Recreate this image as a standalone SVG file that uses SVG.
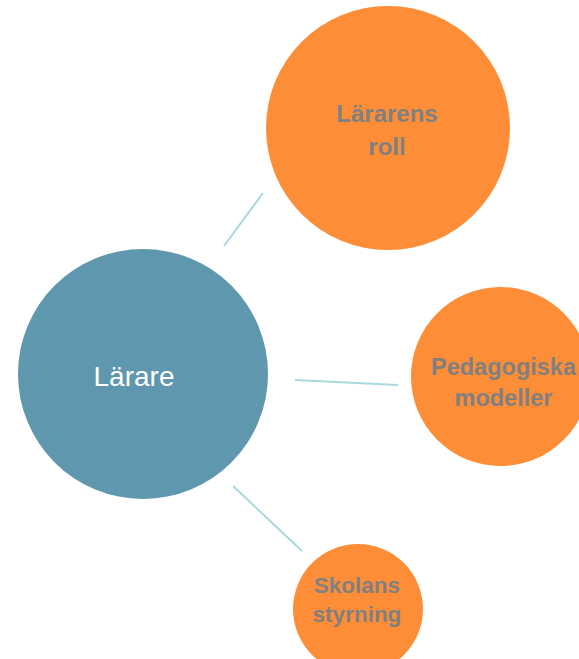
<svg xmlns="http://www.w3.org/2000/svg" width="579" height="659" viewBox="0 0 579 659">
<style>
.conn{stroke:#a9d9dd;stroke-width:2;fill:none}
.orange{fill:#fe8d37}
.blue{fill:#5f97ae}
.lbl{font-family:"Liberation Sans",Arial,sans-serif;font-weight:bold;fill:#808080;text-anchor:middle}
.main{font-family:"Liberation Sans",Arial,sans-serif;fill:#ffffff;text-anchor:middle;font-size:28px}
</style>
<rect width="579" height="659" fill="#ffffff"/>
<g id="connectors">
<line class="conn" x1="224" y1="246" x2="263" y2="193"/>
<line class="conn" x1="295" y1="380" x2="398" y2="385"/>
<line class="conn" x1="233" y1="486" x2="302" y2="551"/>
</g>
<g id="node-larare">
<circle class="blue" cx="143" cy="374" r="125"/>
<text class="main" x="134" y="386">Lärare</text>
</g>
<g id="node-lararens-roll">
<circle class="orange" cx="388" cy="128" r="122"/>
<text class="lbl" x="387" y="122" font-size="24">Lärarens</text>
<text class="lbl" x="387" y="155" font-size="24">roll</text>
</g>
<g id="node-pedagogiska-modeller">
<circle class="orange" cx="500.5" cy="376.5" r="89.5"/>
<text class="lbl" x="503.5" y="375" font-size="23.5">Pedagogiska</text>
<text class="lbl" x="503.5" y="406" font-size="23.5">modeller</text>
</g>
<g id="node-skolans-styrning">
<circle class="orange" cx="358" cy="609" r="65"/>
<text class="lbl" x="357" y="593" font-size="22.5">Skolans</text>
<text class="lbl" x="357" y="622" font-size="22.5">styrning</text>
</g>
</svg>
